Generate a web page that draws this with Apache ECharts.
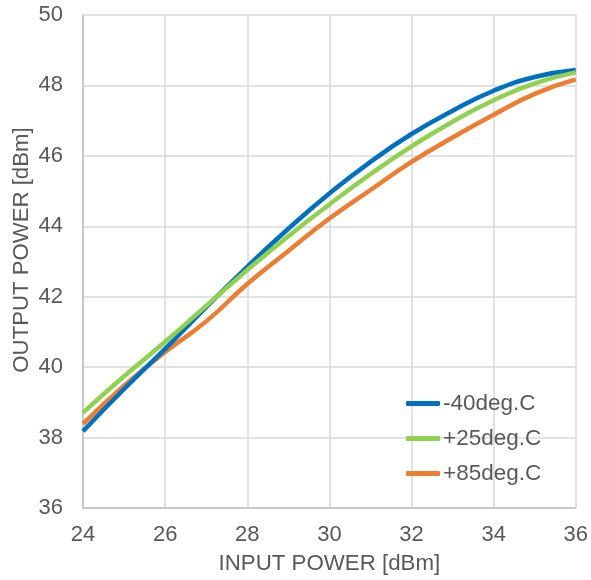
<!DOCTYPE html>
<html>
<head>
<meta charset="utf-8">
<script src="https://cdn.jsdelivr.net/npm/echarts@6/dist/echarts.min.js"></script>
<style>html,body{margin:0;padding:0;background:#fff}#c{width:591px;height:580px}</style>
</head>
<body>
<div id="c"></div>
<script>
var inputPower = [24, 25, 26, 27, 28, 29, 30, 31, 32, 33, 34, 35, 36];
var seriesNames = ['-40deg.C', '+25deg.C', '+85deg.C'];
var outM40 = [38.18, 39.38, 40.52, 41.70, 42.85, 43.93, 44.93, 45.83, 46.62, 47.28, 47.85, 48.24, 48.44];
var outP25 = [38.71, 39.74, 40.72, 41.74, 42.76, 43.72, 44.62, 45.48, 46.27, 46.97, 47.58, 48.06, 48.37];
var outP85 = [38.39, 39.47, 40.43, 41.30, 42.36, 43.30, 44.22, 45.03, 45.83, 46.52, 47.17, 47.76, 48.17];
var colors = ['#0070C0', '#92D050', '#ED7D31'];

function pairs(ys) { return inputPower.map(function (x, i) { return [x, ys[i]]; }); }

var font = 'Liberation Sans, Arial, sans-serif';
var txt = '#595959';
var chart = echarts.init(document.getElementById('c'));
chart.setOption({
  animation: false,
  color: colors,
  grid: { left: 83, right: 13, top: 15, bottom: 72, containLabel: false },
  legend: {
    orient: 'vertical', left: 406, top: 392, padding: 0, itemWidth: 34, itemHeight: 5, itemGap: 12,
    icon: 'roundRect',
    textStyle: { fontFamily: font, fontSize: 22.5, color: txt, padding: [0, 0, 0, -2] },
    data: seriesNames
  },
  xAxis: {
    type: 'value', min: 24, max: 36, interval: 2,
    name: 'INPUT POWER [dBm]', nameLocation: 'middle', nameGap: 45,
    nameTextStyle: { fontFamily: font, fontSize: 22.3, color: txt },
    axisLine: { show: true, lineStyle: { color: '#BFBFBF', width: 1.5 } },
    axisTick: { show: false },
    axisLabel: { fontFamily: font, fontSize: 22, color: txt, margin: 16 },
    splitLine: { show: true, lineStyle: { color: '#D9D9D9', width: 1.5 } }
  },
  yAxis: {
    type: 'value', min: 36, max: 50, interval: 2,
    axisLine: { show: true, lineStyle: { color: '#BFBFBF', width: 1.5 } },
    axisTick: { show: false },
    axisLabel: { fontFamily: font, fontSize: 22, color: txt, margin: 20 },
    splitLine: { show: true, lineStyle: { color: '#D9D9D9', width: 1.5 } }
  },
  graphic: [{
    type: 'text', x: 22, y: 250, rotation: Math.PI / 2,
    style: { text: 'OUTPUT POWER [dBm]', font: '22.2px ' + font, fill: txt, align: 'center', verticalAlign: 'middle' }
  }],
  series: [
    { name: seriesNames[0], type: 'line', smooth: true, showSymbol: false, data: pairs(outM40), lineStyle: { width: 4.5 }, z: 3 },
    { name: seriesNames[1], type: 'line', smooth: true, showSymbol: false, data: pairs(outP25), lineStyle: { width: 4.5 }, z: 4 },
    { name: seriesNames[2], type: 'line', smooth: true, showSymbol: false, data: pairs(outP85), lineStyle: { width: 4.5 }, z: 2 }
  ]
});
</script>
</body>
</html>
